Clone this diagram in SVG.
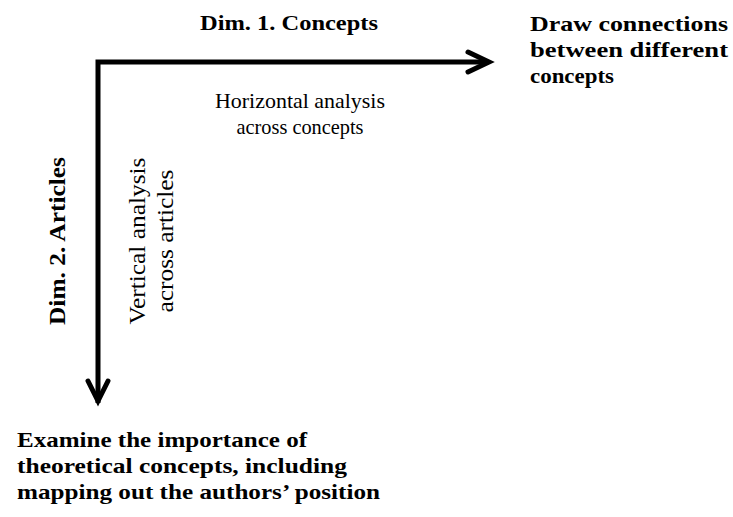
<svg xmlns="http://www.w3.org/2000/svg" width="733" height="517" viewBox="0 0 733 517">
  <style>
    .bold { font-family: "Liberation Serif", "DejaVu Serif", serif; font-weight: bold; fill: #000; }
    .reg { font-family: "Liberation Serif", "DejaVu Serif", serif; fill: #000; }
    .axis { fill: none; stroke: #000; stroke-width: 5; stroke-linecap: butt; stroke-linejoin: miter; }
    .head { fill: none; stroke: #000; stroke-width: 5; stroke-linecap: round; stroke-linejoin: miter; }
  </style>
  <rect width="733" height="517" fill="#fff"/>

  <!-- axes -->
  <g id="connectors">
    <path class="axis" d="M98,403 V62 H488"/>
    <path class="head" d="M468,52 L489,62 L468,72"/>
    <path class="head" d="M88,381 L98,401 L108,381"/>
  </g>

  <!-- dimension 1: concepts -->
  <g id="dim1">
    <text class="bold" x="289" y="30" font-size="22" text-anchor="middle" textLength="178" lengthAdjust="spacingAndGlyphs">Dim. 1. Concepts</text>
  </g>
  <g id="horizontal-analysis">
    <text class="reg" x="300" y="108" font-size="21" text-anchor="middle" textLength="170" lengthAdjust="spacingAndGlyphs">Horizontal analysis</text>
    <text class="reg" x="300" y="134" font-size="21" text-anchor="middle" textLength="127" lengthAdjust="spacingAndGlyphs">across concepts</text>
  </g>
  <g id="draw-connections">
    <text class="bold" x="530" y="31" font-size="22" textLength="198" lengthAdjust="spacingAndGlyphs">Draw connections</text>
    <text class="bold" x="530" y="57" font-size="22" textLength="198" lengthAdjust="spacingAndGlyphs">between different</text>
    <text class="bold" x="530" y="83" font-size="22" textLength="84" lengthAdjust="spacingAndGlyphs">concepts</text>
  </g>

  <!-- dimension 2: articles -->
  <g id="dim2">
    <text class="bold" transform="translate(65,241) rotate(-90)" font-size="23" text-anchor="middle" textLength="168" lengthAdjust="spacingAndGlyphs">Dim. 2. Articles</text>
  </g>
  <g id="vertical-analysis">
    <text class="reg" transform="translate(145,241) rotate(-90)" font-size="23" text-anchor="middle" textLength="167" lengthAdjust="spacingAndGlyphs">Vertical analysis</text>
    <text class="reg" transform="translate(173,241) rotate(-90)" font-size="23" text-anchor="middle" textLength="143" lengthAdjust="spacingAndGlyphs">across articles</text>
  </g>
  <g id="examine-importance">
    <text class="bold" x="17" y="447" font-size="22" textLength="290" lengthAdjust="spacingAndGlyphs">Examine the importance of</text>
    <text class="bold" x="17" y="473" font-size="22" textLength="330" lengthAdjust="spacingAndGlyphs">theoretical concepts, including</text>
    <text class="bold" x="17" y="499" font-size="22" textLength="363" lengthAdjust="spacingAndGlyphs">mapping out the authors’ position</text>
  </g>
</svg>
